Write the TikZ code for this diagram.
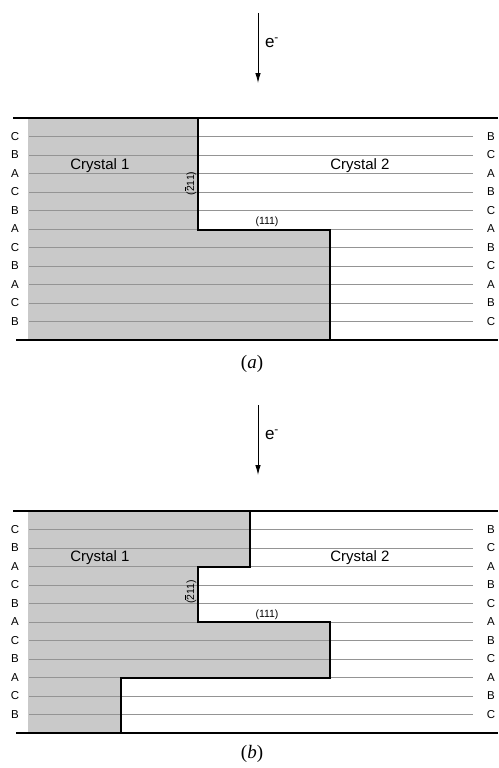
\documentclass[tikz,border=0pt]{standalone}
\usepackage{fontspec}
\setsansfont{Liberation Sans}
\newfontfamily\capfont{Liberation Serif}
\usetikzlibrary{arrows.meta}
\newcommand{\barTwo}{\mbox{\rlap{\hspace{0.06em}\rule[0.82em]{0.44em}{0.07em}}2}}
\begin{document}
\begin{tikzpicture}[x=1pt,y=-1pt,
  crystalfill/.style={fill=black!21},
  layer/.style={draw=black!42, line width=0.9pt},
  edge/.style={line width=2pt},
  bnd/.style={line width=2pt, line join=miter},
  lab/.style={font=\sffamily\fontsize{11.5}{12}\selectfont, inner sep=0pt},
  cryst/.style={font=\sffamily\fontsize{15}{16}\selectfont, inner sep=0pt},
  miller/.style={font=\sffamily\fontsize{10.5}{11}\selectfont, inner sep=0pt},
  beam/.style={line width=0.9pt, -{Latex[length=10pt,width=5.5pt]}},
  capt/.style={font=\capfont\fontsize{19}{21}\selectfont, inner sep=0pt},
  elab/.style={font=\sffamily\fontsize{17}{18}\selectfont, inner sep=0pt}
]
\useasboundingbox (0,0) rectangle (498,768);

% ---------------- panel (a) ----------------
\fill[crystalfill] (28,118) -- (198,118) -- (198,230) -- (330,230) -- (330,340) -- (28,340) -- cycle;
\foreach \k in {1,...,11} \draw[layer] (29,{118+18.5*\k}) -- (473,{118+18.5*\k});
\foreach \l [count=\k] in {C,B,A,C,B,A,C,B,A,C,B}
  \node[lab] (aL\k) at (15,{118+18.5*\k}) {\l};
\foreach \l [count=\k] in {B,C,A,B,C,A,B,C,A,B,C}
  \node[lab] (aR\k) at (491,{118+18.5*\k}) {\l};
\draw[bnd] (198,118) -- (198,230) -- (330,230) -- (330,340);
\draw[edge] (13,118) -- (498,118);
\draw[edge] (16,340) -- (498,340);
\node[cryst] (ac1) at (100,166) {Crystal 1};
\node[cryst] (ac2) at (360,166) {Crystal 2};
\node[miller, rotate=90] (am1) at (190.5,183.5) {(\barTwo11)};
\node[miller] (am2) at (267,222) {(111)};
\coordinate (aS) at (258,13);
\coordinate (aE) at (258,83);
\draw[beam] (aS) -- (aE);
\node[elab] (ae) at (272,43) {e\textsuperscript{-}};
\node[capt] (acap) at (252,364) {(\textit{a})};

% ---------------- panel (b) ----------------
\fill[crystalfill] (28,511) -- (250,511) -- (250,566.5) -- (198,566.5) -- (198,622) -- (330,622) -- (330,677.5) -- (121,677.5) -- (121,733) -- (28,733) -- cycle;
\foreach \k in {1,...,11} \draw[layer] (29,{511+18.5*\k}) -- (473,{511+18.5*\k});
\foreach \l [count=\k] in {C,B,A,C,B,A,C,B,A,C,B}
  \node[lab] (bL\k) at (15,{511+18.5*\k}) {\l};
\foreach \l [count=\k] in {B,C,A,B,C,A,B,C,A,B,C}
  \node[lab] (bR\k) at (491,{511+18.5*\k}) {\l};
\draw[bnd] (250,511) -- (250,566.5) -- (198,566.5) -- (198,622) -- (330,622) -- (330,677.5) -- (121,677.5) -- (121,733);
\draw[edge] (13,511) -- (498,511);
\draw[edge] (16,733) -- (498,733);
\node[cryst] (bc1) at (100,558) {Crystal 1};
\node[cryst] (bc2) at (360,558) {Crystal 2};
\node[miller, rotate=90] (bm1) at (190.5,592) {(\barTwo11)};
\node[miller] (bm2) at (267,615) {(111)};
\coordinate (bS) at (258,405);
\coordinate (bE) at (258,475);
\draw[beam] (bS) -- (bE);
\node[elab] (be) at (272,435) {e\textsuperscript{-}};
\node[capt] (bcap) at (252,754) {(\textit{b})};
\end{tikzpicture}
\end{document}
